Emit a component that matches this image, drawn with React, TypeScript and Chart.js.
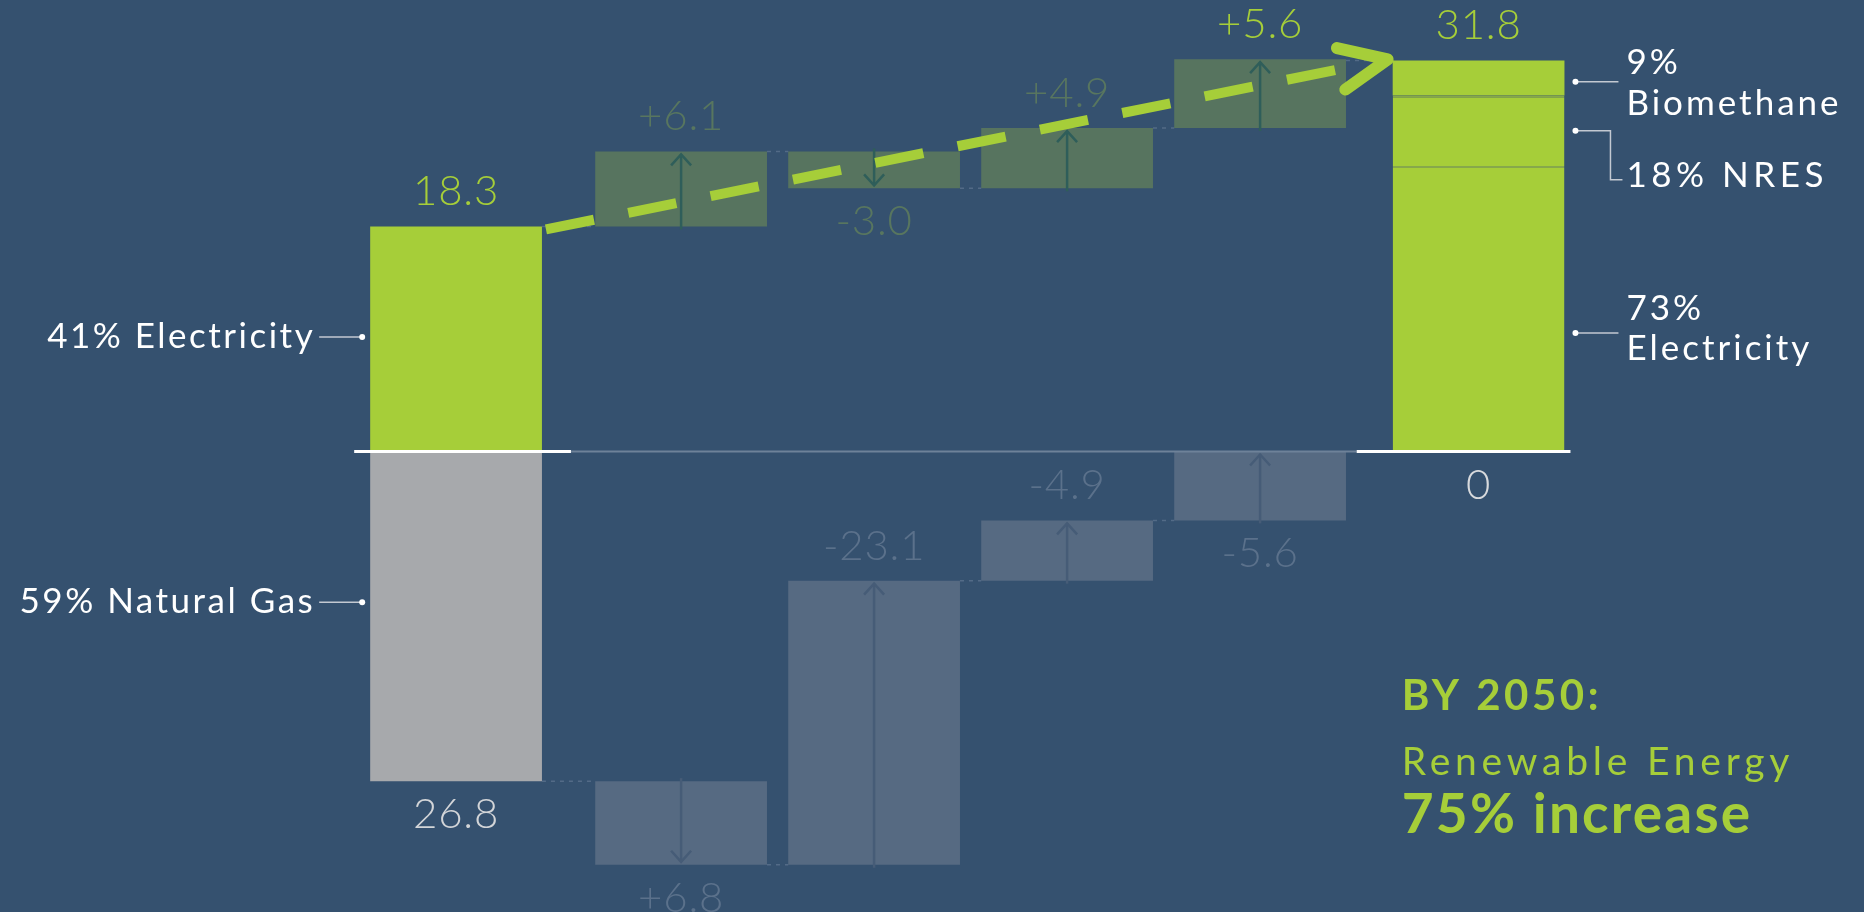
import React, { useEffect, useRef } from 'react';
import { Chart, registerables } from 'chart.js';

Chart.register(...registerables);

// ---------- data ----------
const categories = ['Today', 'Change 1', 'Change 2', 'Change 3', 'Change 4', '2050'];
const renewableStart = 18.3;
const renewableChanges = [6.1, -3.0, 4.9, 5.6];
const renewableTotal2050 = 31.8;
const gasStart = 26.8;
const gasChanges = [6.8, -23.1, -4.9, -5.6];
const gasTotal2050 = 0;
const startShareLabels = ['41% Electricity', '59% Natural Gas'];
const endShareNames = ['Electricity', 'NRES', 'Biomethane'];
const endSharePercents = [73, 18, 9];
const calloutTitle = 'BY 2050:';
const calloutSubtitle = 'Renewable Energy';
const calloutHighlight = '75% increase';

// ---------- derived ----------
const GREEN = '#A6CE39';
const BG = '#35516F';
const FONT = 'Lato, "Open Sans", sans-serif';

function renewableRanges(): number[][] {
  const out: number[][] = [];
  let level = renewableStart;
  for (const c of renewableChanges) {
    out.push([level, +(level + c).toFixed(2)]);
    level = +(level + c).toFixed(2);
  }
  return out;
}
function gasRanges(): number[][] {
  const out: number[][] = [];
  let level = -gasStart;
  for (const c of gasChanges) {
    out.push([level, +(level - c).toFixed(2)]);
    level = +(level - c).toFixed(2);
  }
  return out;
}
function endSegments(): number[][] {
  const out: number[][] = [];
  let acc = 0;
  for (const p of endSharePercents) {
    const v = (renewableTotal2050 * p) / 100;
    out.push([acc, acc + v]);
    acc += v;
  }
  return out;
}

// layout: wider gaps around the start / end columns
const slotX = categories.map((_, i) => i + (i > 0 ? 0.166 : 0) + (i === categories.length - 1 ? 0.132 : 0));

const rRanges = renewableRanges();
const gRanges = gasRanges();
const eSegs = endSegments();

function fmtChange(v: number) {
  return (v > 0 ? '+' : '-') + Math.abs(v).toFixed(1);
}

const overlayPlugin = {
  id: 'overlay',
  afterDatasetsDraw(chart: any) {
    const ctx: CanvasRenderingContext2D = chart.ctx;
    const ys = chart.scales.y;
    const py = (v: number) => ys.getPixelForValue(v);
    const el = (ds: number, i: number) => chart.getDatasetMeta(ds).data[i];
    const L = (e: any) => e.x - e.width / 2;
    const R = (e: any) => e.x + e.width / 2;
    const startEl = el(0, 0);
    const endEl = el(2, 0);
    const zeroY = py(0);

    const setFont = (size: number, weight: number | string, spacing: number) => {
      ctx.font = `${weight} ${size}px ${FONT}`;
      (ctx as any).letterSpacing = `${spacing}px`;
    };

    ctx.save();

    // dotted connectors between columns
    ctx.setLineDash([4, 5]);
    ctx.lineWidth = 1.5;
    ctx.strokeStyle = 'rgba(120,140,165,0.45)';
    const conn = (a: any, b: any, v: number) => {
      ctx.beginPath();
      ctx.moveTo(R(a), py(v));
      ctx.lineTo(L(b), py(v));
      ctx.stroke();
    };
    conn(startEl, el(1, 0), renewableStart);
    conn(el(5, 0), el(6, 0), -gasStart);
    for (let i = 0; i < 3; i++) {
      conn(el(1, i), el(1, i + 1), rRanges[i][1]);
      conn(el(6, i), el(6, i + 1), gRanges[i][1]);
    }
    conn(el(1, 3), endEl, renewableTotal2050);
    ctx.setLineDash([]);

    // arrows inside change bars
    const arrow = (e: any, from: number, to: number, color: string) => {
      const dir = py(to) < py(from) ? -1 : 1;
      const y0 = py(from) - dir * 3;
      const y1 = py(to) - dir * 3;
      ctx.strokeStyle = color;
      ctx.lineWidth = 2.5;
      ctx.lineCap = 'butt';
      ctx.beginPath();
      ctx.moveTo(e.x, y0);
      ctx.lineTo(e.x, y1);
      ctx.stroke();
      ctx.beginPath();
      ctx.moveTo(e.x - 10, y1 - dir * 11);
      ctx.lineTo(e.x, y1);
      ctx.lineTo(e.x + 10, y1 - dir * 11);
      ctx.stroke();
    };
    rRanges.forEach((r, i) => arrow(el(1, i), r[0], r[1], '#2F5E5A'));
    gRanges.forEach((r, i) => arrow(el(6, i), r[0], r[1], '#465C77'));

    // zero line
    ctx.lineCap = 'butt';
    ctx.strokeStyle = '#6E8299';
    ctx.lineWidth = 2;
    ctx.beginPath();
    ctx.moveTo(R(startEl) + 29, zeroY);
    ctx.lineTo(L(endEl) - 36, zeroY);
    ctx.stroke();
    ctx.strokeStyle = '#FFFFFF';
    ctx.lineWidth = 3;
    ctx.beginPath();
    ctx.moveTo(L(startEl) - 16, zeroY);
    ctx.lineTo(R(startEl) + 29, zeroY);
    ctx.moveTo(L(endEl) - 36, zeroY);
    ctx.lineTo(R(endEl) + 6, zeroY);
    ctx.stroke();

    // value labels
    setFont(42, 300, 0.8);
    ctx.textAlign = 'center';
    ctx.textBaseline = 'alphabetic';
    const above = (t: string, x: number, topV: number, c: string) => {
      ctx.fillStyle = c;
      ctx.fillText(t, x, py(topV) - 21);
    };
    const below = (t: string, x: number, botV: number, c: string) => {
      ctx.fillStyle = c;
      ctx.fillText(t, x, py(botV) + 47);
    };
    above(renewableStart.toFixed(1), startEl.x, renewableStart, GREEN);
    below(gasStart.toFixed(1), startEl.x, -gasStart, '#D3D5D8');
    rRanges.forEach((r, i) => {
      const c = renewableChanges[i];
      const color = i === rRanges.length - 1 ? GREEN : '#58765F';
      if (c > 0) above(fmtChange(c), el(1, i).x, Math.max(r[0], r[1]), color);
      else below(fmtChange(c), el(1, i).x, Math.min(r[0], r[1]), color);
    });
    gRanges.forEach((r, i) => {
      const c = gasChanges[i];
      const color = '#5B718B';
      const top = Math.max(r[0], r[1]);
      if (c > 0 || top >= 0) below(fmtChange(c), el(6, i).x, Math.min(r[0], r[1]), color);
      else above(fmtChange(c), el(6, i).x, top, color);
    });
    above(renewableTotal2050.toFixed(1), endEl.x, renewableTotal2050, GREEN);
    below(String(gasTotal2050), endEl.x, gasTotal2050, '#D8DADD');

    // share annotations
    const dot = (x: number, y: number) => {
      ctx.fillStyle = '#FFFFFF';
      ctx.beginPath();
      ctx.arc(x, y, 3, 0, Math.PI * 2);
      ctx.fill();
    };
    ctx.strokeStyle = '#C3C9D2';
    ctx.lineWidth = 1.5;
    setFont(35, 400, 2.5);
    ctx.fillStyle = '#FFFFFF';
    // left
    const leftDotX = L(startEl) - 8;
    const leftItems = [py(renewableStart * 0.5) - 2, py(-gasStart * 0.457)];
    leftItems.forEach((y, i) => {
      ctx.beginPath();
      ctx.moveTo(leftDotX, y);
      ctx.lineTo(leftDotX - 43, y);
      ctx.stroke();
      dot(leftDotX, y);
      ctx.fillStyle = '#FFFFFF';
      ctx.textAlign = 'right';
      ctx.fillText(startShareLabels[i], leftDotX - 47, y + 11);
    });
    // right
    const rDotX = R(endEl) + 11;
    const rTextX = R(endEl) + 62;
    ctx.textAlign = 'left';
    setFont(35, 400, 3);
    // biomethane
    {
      const s = eSegs[2];
      const y = py(s[0] + (s[1] - s[0]) * 0.39);
      ctx.beginPath();
      ctx.moveTo(rDotX, y);
      ctx.lineTo(R(endEl) + 54, y);
      ctx.stroke();
      dot(rDotX, y);
      ctx.fillStyle = '#FFFFFF';
      ctx.fillText(`${endSharePercents[2]}%`, rTextX, y - 8);
      ctx.fillText(endShareNames[2], rTextX, y + 33);
    }
    // NRES
    {
      const s = eSegs[1];
      const y = py(s[0] + (s[1] - s[0]) * 0.5);
      ctx.beginPath();
      ctx.moveTo(rDotX, y);
      ctx.lineTo(R(endEl) + 46, y);
      ctx.lineTo(R(endEl) + 46, y + 49);
      ctx.lineTo(R(endEl) + 58, y + 49);
      ctx.stroke();
      dot(rDotX, y);
      ctx.fillStyle = '#FFFFFF';
      setFont(35, 400, 4.5);
      ctx.fillText(`${endSharePercents[1]}% ${endShareNames[1]}`, rTextX, y + 56);
      setFont(35, 400, 3);
    }
    // electricity
    {
      const s = eSegs[0];
      const y = py(s[0] + (s[1] - s[0]) * 0.415);
      ctx.beginPath();
      ctx.moveTo(rDotX, y);
      ctx.lineTo(R(endEl) + 54, y);
      ctx.stroke();
      dot(rDotX, y);
      ctx.fillStyle = '#FFFFFF';
      ctx.fillText(`${endSharePercents[0]}%`, rTextX, y - 13);
      ctx.fillText(endShareNames[0], rTextX, y + 27);
    }

    // callout
    const cx = L(endEl) + 9;
    ctx.fillStyle = GREEN;
    ctx.textAlign = 'left';
    setFont(42, 700, 3.5);
    ctx.fillText(calloutTitle, cx, zeroY + 258);
    setFont(39, 400, 4.8);
    ctx.fillText(calloutSubtitle, cx, zeroY + 323);
    setFont(55, 700, 2.2);
    ctx.fillText(calloutHighlight, cx, zeroY + 381);
    (ctx as any).letterSpacing = '0px';

    // dashed trend arrow
    const sx = R(startEl) + 4;
    const sy = py(renewableStart) + 3;
    const tx = L(endEl) - 5;
    const ty = py(renewableTotal2050) - 1;
    const dx = tx - sx;
    const dy = ty - sy;
    const len = Math.hypot(dx, dy);
    const ux = dx / len;
    const uy = dy / len;
    ctx.strokeStyle = GREEN;
    ctx.lineWidth = 10;
    ctx.lineCap = 'butt';
    ctx.setLineDash([49, 35]);
    ctx.beginPath();
    ctx.moveTo(sx, sy);
    ctx.lineTo(sx + ux * (len - 40), sy + uy * (len - 40));
    ctx.stroke();
    ctx.setLineDash([]);
    const back = Math.atan2(-uy, -ux);
    const ang = (24 * Math.PI) / 180;
    const armLen = 52;
    ctx.lineWidth = 12;
    ctx.lineCap = 'round';
    ctx.lineJoin = 'round';
    ctx.beginPath();
    ctx.moveTo(tx + Math.cos(back + ang) * armLen, ty + Math.sin(back + ang) * armLen);
    ctx.lineTo(tx, ty);
    ctx.lineTo(tx + Math.cos(back - ang) * armLen, ty + Math.sin(back - ang) * armLen);
    ctx.stroke();

    ctx.restore();
  },
};

export default function App() {
  const canvasRef = useRef<HTMLCanvasElement | null>(null);

  useEffect(() => {
    const canvas = canvasRef.current;
    if (!canvas) return;
    const common = { grouped: false, barPercentage: 0.89, categoryPercentage: 1, borderWidth: 0 };
    const sepBorder = { top: 2, left: 0, right: 0, bottom: 0 };
    const chart = new Chart(canvas, {
      type: 'bar',
      data: {
        datasets: [
          { label: 'Renewables ' + categories[0], data: [{ x: slotX[0], y: [0, renewableStart] }], backgroundColor: GREEN, ...common },
          {
            label: 'Renewables change',
            data: rRanges.map((r, i) => ({ x: slotX[i + 1], y: r })),
            backgroundColor: '#57745F',
            ...common,
          },
          {
            label: endShareNames[0],
            data: [{ x: slotX[5], y: eSegs[0] }],
            backgroundColor: GREEN,
            ...common,
            borderWidth: sepBorder,
            borderColor: '#86A84B',
            borderSkipped: false,
          },
          {
            label: endShareNames[1],
            data: [{ x: slotX[5], y: eSegs[1] }],
            backgroundColor: GREEN,
            ...common,
            borderWidth: sepBorder,
            borderColor: '#86A84B',
            borderSkipped: false,
          },
          { label: endShareNames[2], data: [{ x: slotX[5], y: eSegs[2] }], backgroundColor: GREEN, ...common },
          { label: 'Natural gas ' + categories[0], data: [{ x: slotX[0], y: [0, -gasStart] }], backgroundColor: '#A7A9AC', ...common },
          {
            label: 'Natural gas change',
            data: gRanges.map((r, i) => ({ x: slotX[i + 1], y: r })),
            backgroundColor: '#566A82',
            ...common,
          },
        ] as any,
      },
      options: {
        animation: false,
        responsive: false,
        layout: { padding: 0 },
        plugins: { legend: { display: false }, tooltip: { enabled: false } },
        scales: {
          x: {
            type: 'linear',
            display: false,
            offset: false,
            min: -2.363,
            max: 7.295,
            ticks: { stepSize: 1 },
            afterBuildTicks: (scale: any) => {
              scale.ticks = scale.ticks.filter((t: any) => Number.isInteger(t.value));
            },
            grid: { display: false },
          },
          y: {
            type: 'linear',
            display: false,
            min: -37.44,
            max: 36.71,
            grid: { display: false },
          },
        },
      } as any,
      plugins: [overlayPlugin],
    });
    return () => chart.destroy();
  }, []);

  return (
    <div style={{ position: 'fixed', left: 0, top: 0, width: 1864, height: 912, background: BG }}>
      <canvas ref={canvasRef} width={1864} height={912} style={{ display: 'block', width: 1864, height: 912 }} />
    </div>
  );
}
